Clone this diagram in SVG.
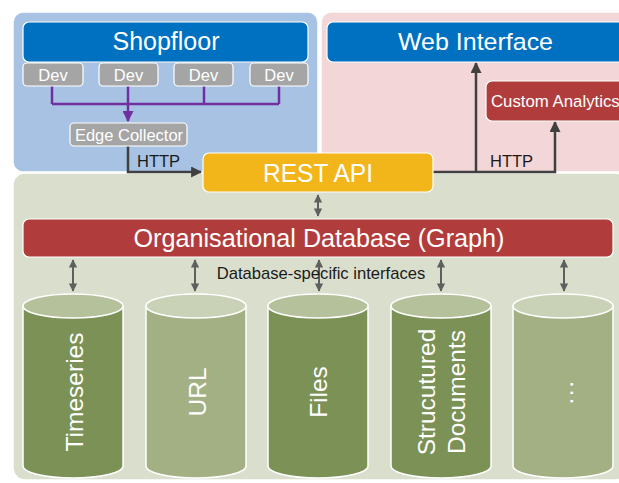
<svg xmlns="http://www.w3.org/2000/svg" width="619" height="483" viewBox="0 0 619 483">
<defs>
<style>
text{font-family:"Liberation Sans",Arial,sans-serif;}
.w{fill:#fff;}
.k{fill:#1a1a1a;}
.panel{stroke:#fff;stroke-width:1.5;}
.box{stroke:#fff;stroke-width:1.2;}
.dev{fill:#a5a5a5;stroke:#fff;stroke-width:1.2;}
.cdark{fill:#7b9155;stroke:#fff;stroke-width:1.5;}
.clight{fill:#a3b083;stroke:#fff;stroke-width:1.5;}
.tdark{fill:#b5c19a;stroke:#fff;stroke-width:1.5;}
.tlight{fill:#c9d1b6;stroke:#fff;stroke-width:1.5;}
.http{fill:none;stroke:#404040;stroke-width:2.5;}
.purple{fill:none;stroke:#7030a0;stroke-width:2.5;}
.dbl{fill:none;stroke:#5f5f5f;stroke-width:2;}
.cyl{font-size:24.5px;fill:#fff;text-anchor:middle;}
</style>
<marker id="ah" viewBox="0 0 10 10" refX="9" refY="5" markerWidth="4.4" markerHeight="4.4" orient="auto" markerUnits="strokeWidth">
<path d="M0,0 L10,5 L0,10 z" fill="#404040"/>
</marker>
<marker id="ap" viewBox="0 0 10 10" refX="9" refY="5" markerWidth="4.4" markerHeight="4.4" orient="auto" markerUnits="strokeWidth">
<path d="M0,0 L10,5 L0,10 z" fill="#7030a0"/>
</marker>
<marker id="ad" viewBox="0 0 10 10" refX="9" refY="5" markerWidth="4.2" markerHeight="4.2" orient="auto-start-reverse" markerUnits="strokeWidth">
<path d="M0,0 L10,5 L0,10 z" fill="#5f5f5f"/>
</marker>
</defs>
<rect width="619" height="483" fill="#fff"/>

<g id="panels">
<rect id="panel-shopfloor" class="panel" x="13" y="12" width="305" height="160" rx="10" fill="#a7c2e3"/>
<rect id="panel-web" class="panel" x="321" y="12" width="310" height="160" rx="10" fill="#f2d6d8"/>
<rect id="panel-backend" class="panel" x="13" y="173" width="614" height="307" rx="12" fill="#dadfcd"/>
</g>

<g id="connectors">
<path class="purple" d="M52,86 V104 M279,86 V104 M204,86 V104 M52,104 H279"/>
<path class="purple" d="M128,86 V121" marker-end="url(#ap)"/>
<path class="http" d="M128,146 V172 H201" marker-end="url(#ah)"/>
<path class="http" d="M433,172 H555 V122" marker-end="url(#ah)"/>
<path class="http" d="M476,172 V63" marker-end="url(#ah)"/>
<path class="dbl" d="M318,195 V216" marker-start="url(#ad)" marker-end="url(#ad)"/>
<path class="dbl" d="M73,260 V291" marker-start="url(#ad)" marker-end="url(#ad)"/>
<path class="dbl" d="M195,260 V291" marker-start="url(#ad)" marker-end="url(#ad)"/>
<path class="dbl" d="M319,260 V291" marker-start="url(#ad)" marker-end="url(#ad)"/>
<path class="dbl" d="M441,260 V291" marker-start="url(#ad)" marker-end="url(#ad)"/>
<path class="dbl" d="M564,260 V291" marker-start="url(#ad)" marker-end="url(#ad)"/>
<text class="k" x="137" y="167" font-size="16.5">HTTP</text>
<text class="k" x="490" y="167" font-size="16.5">HTTP</text>
<text class="k" x="321" y="279" font-size="16.6" text-anchor="middle">Database-specific interfaces</text>
</g>

<g id="shopfloor">
<rect class="box" x="23" y="22" width="285" height="40" rx="6" fill="#0070c0"/>
<text class="w" x="166" y="50" font-size="25" text-anchor="middle">Shopfloor</text>
</g>
<g id="dev1"><rect class="dev" x="23" y="63" width="60" height="23" rx="4"/><text class="w" x="53" y="80.5" font-size="16.5" text-anchor="middle">Dev</text></g>
<g id="dev2"><rect class="dev" x="99" y="63" width="59" height="23" rx="4"/><text class="w" x="128.5" y="80.5" font-size="16.5" text-anchor="middle">Dev</text></g>
<g id="dev3"><rect class="dev" x="174" y="63" width="59" height="23" rx="4"/><text class="w" x="203.5" y="80.5" font-size="16.5" text-anchor="middle">Dev</text></g>
<g id="dev4"><rect class="dev" x="250" y="63" width="58" height="23" rx="4"/><text class="w" x="279" y="80.5" font-size="16.5" text-anchor="middle">Dev</text></g>
<g id="edge-collector"><rect class="dev" x="70" y="123" width="117" height="23" rx="4"/><text class="w" x="129" y="140.5" font-size="16.5" text-anchor="middle">Edge Collector</text></g>

<g id="web-interface">
<rect class="box" x="327" y="22" width="300" height="40" rx="6" fill="#0070c0"/>
<text class="w" x="475.5" y="50" font-size="24" text-anchor="middle" textLength="155" lengthAdjust="spacingAndGlyphs">Web Interface</text>
</g>
<g id="custom-analytics">
<rect class="box" x="486" y="81" width="140" height="40" rx="6" fill="#b13c3c"/>
<text class="w" x="491" y="107" font-size="16.8">Custom Analytics</text>
</g>

<g id="rest-api">
<rect class="box" x="203" y="153" width="230" height="39" rx="6" fill="#f2b51a"/>
<text class="w" x="318" y="182" font-size="25" text-anchor="middle" textLength="110" lengthAdjust="spacingAndGlyphs">REST API</text>
</g>

<g id="org-db">
<rect class="box" x="23" y="219" width="590" height="38" rx="6" fill="#b13c3c"/>
<text class="w" x="319" y="247" font-size="25.5" text-anchor="middle" textLength="371" lengthAdjust="spacingAndGlyphs">Organisational Database (Graph)</text>
</g>

<g id="db-timeseries">
<path class="cdark" d="M23,306 V466 A50,12 0 0 0 123,466 V306"/>
<ellipse class="tdark" cx="73" cy="306" rx="50" ry="12"/>
<text class="cyl" transform="translate(83,392) rotate(-90)">Timeseries</text>
</g>
<g id="db-url">
<path class="clight" d="M146,306 V466 A50,12 0 0 0 246,466 V306"/>
<ellipse class="tlight" cx="196" cy="306" rx="50" ry="12"/>
<text class="cyl" transform="translate(206,392) rotate(-90)">URL</text>
</g>
<g id="db-files">
<path class="cdark" d="M268,306 V466 A50,12 0 0 0 368,466 V306"/>
<ellipse class="tdark" cx="318" cy="306" rx="50" ry="12"/>
<text class="cyl" transform="translate(327,392) rotate(-90)">Files</text>
</g>
<g id="db-documents">
<path class="cdark" d="M391,306 V466 A50,12 0 0 0 491,466 V306"/>
<ellipse class="tdark" cx="441" cy="306" rx="50" ry="12"/>
<text class="cyl" transform="translate(435,392) rotate(-90)">Strucutured</text>
<text class="cyl" transform="translate(465,392) rotate(-90)">Documents</text>
</g>
<g id="db-more">
<path class="clight" d="M513,306 V466 A50,12 0 0 0 613,466 V306"/>
<ellipse class="tlight" cx="563" cy="306" rx="50" ry="12"/>
<text class="cyl" transform="translate(573,392) rotate(-90)" letter-spacing="1.5">...</text>
</g>
</svg>
